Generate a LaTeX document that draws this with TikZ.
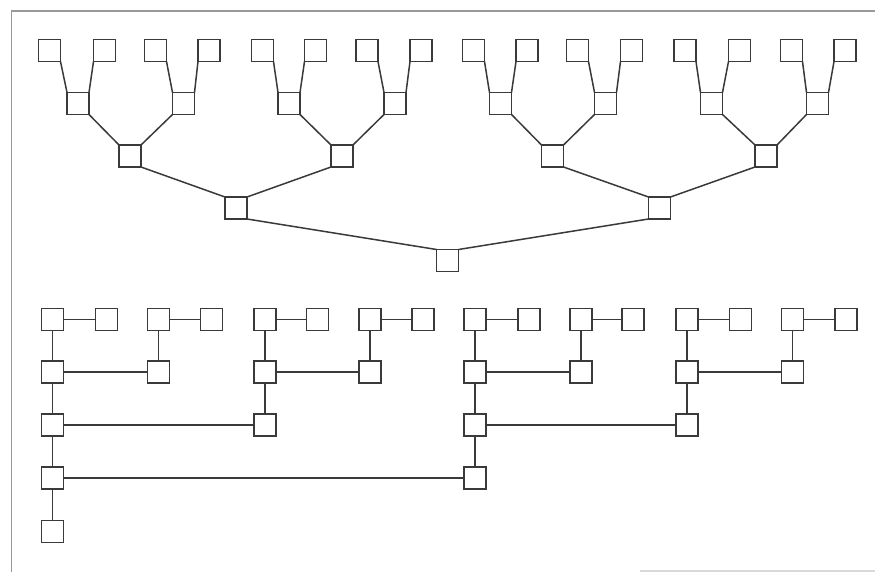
\documentclass[tikz,border=0pt]{standalone}
\begin{document}
\begin{tikzpicture}[x=1pt,y=-1pt,
  box/.style={draw=ink, line width=1.5pt, minimum size=22pt, inner sep=0pt, outer sep=0pt},
  edge/.style={draw=ink, line width=1.5pt},
  framel/.style={draw=black!40, line width=1.6pt}]
\definecolor{ink}{HTML}{3a3a3a}
\fill[white] (0,0) rectangle (875,572);
\useasboundingbox (0,0) rectangle (875,572);
\draw[framel] (11.5,572) -- (11.5,11) -- (875,11);
\draw[draw=black!15, line width=1.2pt] (640,571) -- (875,571);
% ---- top binary tree ----
\foreach \x [count=\i from 0] in {49.5,104.5,155.5,209,262.5,315.5,367,421,473.5,527,577.5,631.5,685,739.5,791.5,845}
  \node[box] (a\i) at (\x,50.5) {};
\foreach \x [count=\i from 0] in {78,183.5,289,395,500.5,605.5,711.5,817.5}
  \node[box] (b\i) at (\x,103.5) {};
\foreach \x [count=\i from 0] in {130,342,552.5,766}
  \node[box] (c\i) at (\x,156) {};
\foreach \x [count=\i from 0] in {236,659.5}
  \node[box] (d\i) at (\x,208) {};
\node[box] (root) at (447.5,260.5) {};
\foreach \i in {0,...,7}{
  \pgfmathtruncatemacro{\l}{2*\i}\pgfmathtruncatemacro{\r}{2*\i+1}
  \draw[edge] (a\l.south east) -- (b\i.north west);
  \draw[edge] (a\r.south west) -- (b\i.north east);
}
\foreach \i in {0,...,3}{
  \pgfmathtruncatemacro{\l}{2*\i}\pgfmathtruncatemacro{\r}{2*\i+1}
  \draw[edge] (b\l.south east) -- (c\i.north west);
  \draw[edge] (b\r.south west) -- (c\i.north east);
}
\foreach \i in {0,1}{
  \pgfmathtruncatemacro{\l}{2*\i}\pgfmathtruncatemacro{\r}{2*\i+1}
  \draw[edge] (c\l.south east) -- (d\i.north west);
  \draw[edge] (c\r.south west) -- (d\i.north east);
}
\draw[edge] (d0.south east) -- (root.north west);
\draw[edge] (d1.south west) -- (root.north east);
% ---- bottom binomial tree ----
\foreach \x [count=\i from 0] in {52.5,106.5,158.5,211.5,265,317.5,370,423,475,529,581,633,687,740.5,792.5,846}
  \node[box] (p1-\i) at (\x,319.5) {};
\foreach \c/\x in {0/52.5,2/158.5,4/265,6/370,8/475,10/581,12/687,14/792.5}
  \node[box] (p2-\c) at (\x,372) {};
\foreach \c/\x in {0/52.5,4/265,8/475,12/687}
  \node[box] (p3-\c) at (\x,425) {};
\foreach \c/\x in {0/52.5,8/475}
  \node[box] (p4-\c) at (\x,478) {};
\node[box] (p5-0) at (52.5,531.5) {};
\foreach \c in {0,2,...,14}{
  \pgfmathtruncatemacro{\n}{\c+1}
  \draw[edge] (p1-\c) -- (p1-\n);
  \draw[edge] (p1-\c) -- (p2-\c);
}
\foreach \c in {0,4,8,12}{
  \pgfmathtruncatemacro{\n}{\c+2}
  \draw[edge] (p2-\c) -- (p2-\n);
  \draw[edge] (p2-\c) -- (p3-\c);
}
\foreach \c in {0,8}{
  \pgfmathtruncatemacro{\n}{\c+4}
  \draw[edge] (p3-\c) -- (p3-\n);
  \draw[edge] (p3-\c) -- (p4-\c);
}
\draw[edge] (p4-0) -- (p4-8);
\draw[edge] (p4-0) -- (p5-0);
\end{tikzpicture}
\end{document}
